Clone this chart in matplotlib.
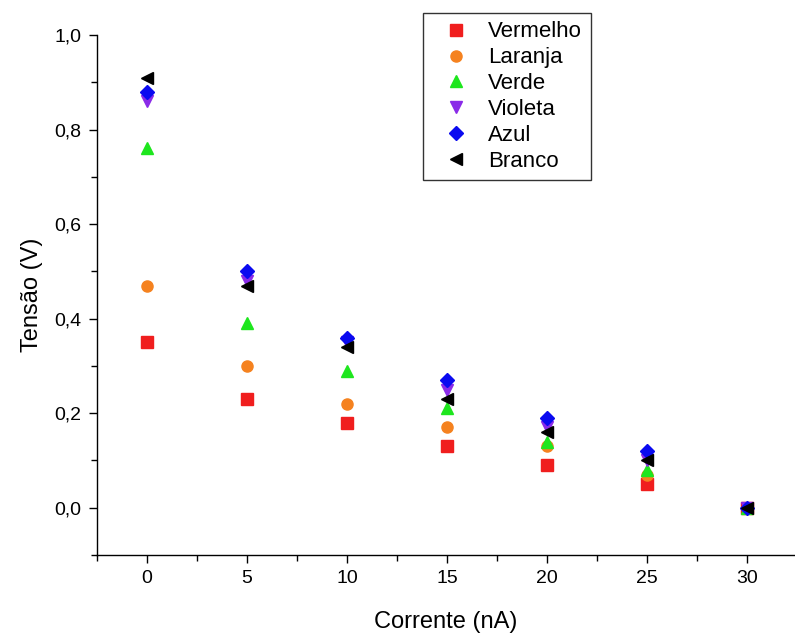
import matplotlib
matplotlib.use('Agg')
from matplotlib import pyplot as plt
from matplotlib.ticker import MultipleLocator, FuncFormatter

# data
corrente = [0, 5, 10, 15, 20, 25, 30]
vermelho = [0.35, 0.23, 0.18, 0.13, 0.09, 0.05, 0.0]
laranja = [0.47, 0.30, 0.22, 0.17, 0.13, 0.07, 0.0]
verde = [0.76, 0.39, 0.29, 0.21, 0.14, 0.08, 0.0]
violeta = [0.86, 0.48, 0.35, 0.25, 0.17, 0.10, 0.0]
azul = [0.88, 0.50, 0.36, 0.27, 0.19, 0.12, 0.0]
branco = [0.91, 0.47, 0.34, 0.23, 0.16, 0.10, 0.0]

series = [
    ('Vermelho', vermelho, 's', '#f01e1e'),
    ('Laranja', laranja, 'o', '#f5821f'),
    ('Verde', verde, '^', '#1ee61e'),
    ('Violeta', violeta, 'v', '#8a2be8'),
    ('Azul', azul, 'D', '#0a0af0'),
    ('Branco', branco, '<', '#000000'),
]

plt.rcParams['font.family'] = ['Liberation Sans', 'DejaVu Sans']

fig = plt.figure(figsize=(7.95, 6.34), dpi=100)
ax = fig.add_axes([97 / 795, 79 / 634, 698 / 795, 520 / 634])

for name, vals, mk, col in series:
    ms = 7 if mk == 'D' else 8
    ax.plot(corrente, vals, linestyle='none', marker=mk, color=col,
            markersize=ms, label=name)

ax.set_xlim(-2.5, 32.4)
ax.set_ylim(-0.1, 1.0)
ax.xaxis.set_major_locator(MultipleLocator(5))
ax.xaxis.set_minor_locator(MultipleLocator(2.5))
ax.yaxis.set_major_locator(MultipleLocator(0.2))
ax.yaxis.set_minor_locator(MultipleLocator(0.1))
ax.yaxis.set_major_formatter(FuncFormatter(lambda v, p: f'{v:.1f}'.replace('.', ',').replace('-0,0', '0,0')))

for s in ('top', 'right'):
    ax.spines[s].set_visible(False)
for s in ('left', 'bottom'):
    ax.spines[s].set_linewidth(1.0)

ax.tick_params(which='major', direction='out', length=6, width=1, labelsize=14, pad=5)
ax.tick_params(which='minor', direction='out', length=4, width=1)

ax.set_xlabel('Corrente (nA)', fontsize=17, labelpad=17)
ax.set_ylabel('Tensão (V)', fontsize=17, labelpad=8)

leg = ax.legend(loc='upper left', bbox_to_anchor=((423 - 97) / 698, (555 - 13) / 520),
                borderaxespad=0, fontsize=16, frameon=True, fancybox=False,
                edgecolor='black', handlelength=2.2, handletextpad=0.36,
                labelspacing=0.22, borderpad=0.38)
leg.get_frame().set_linewidth(1.0)

fig.savefig('out.png', dpi=100)
